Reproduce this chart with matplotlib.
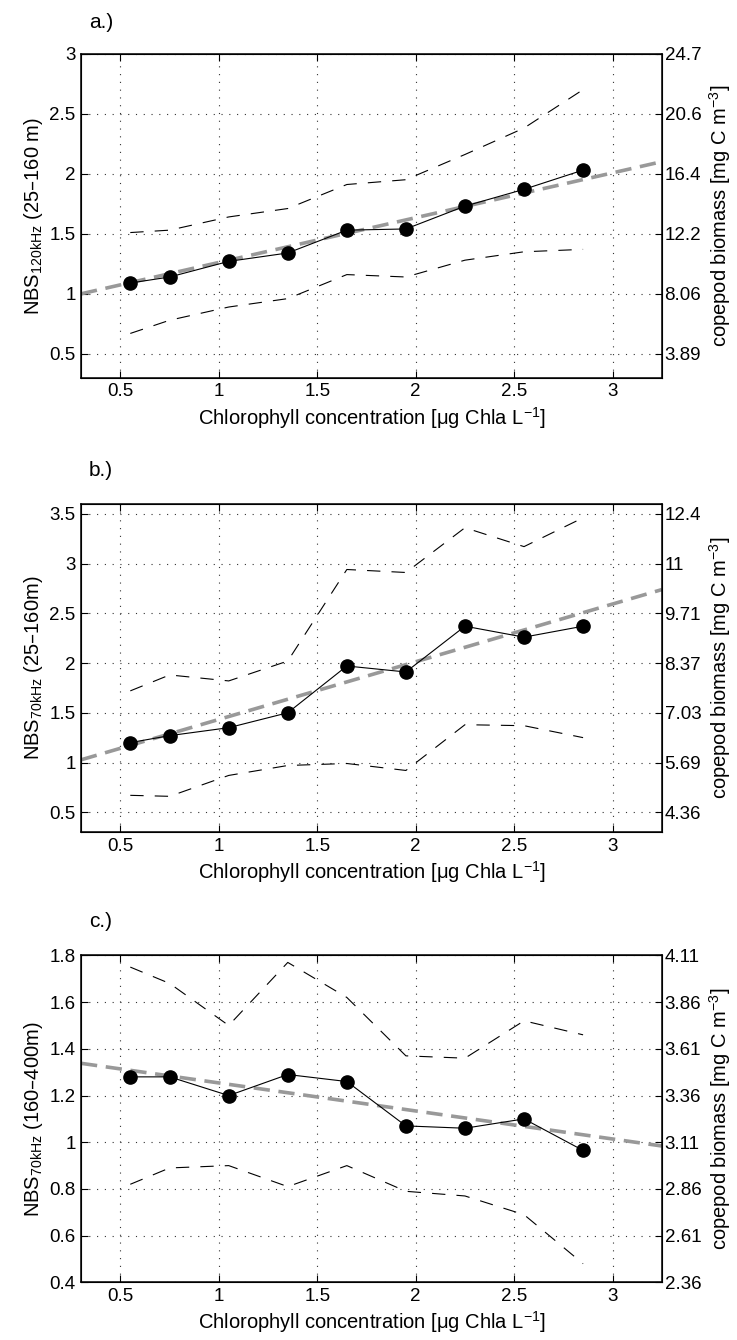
import matplotlib
matplotlib.use('Agg')
import numpy as np
import matplotlib.pyplot as plt

plt.rcParams['font.family'] = ['Liberation Sans', 'DejaVu Sans']
plt.rcParams['mathtext.default'] = 'regular'

# chlorophyll bin centres
chl = [0.55, 0.75, 1.05, 1.35, 1.65, 1.95, 2.25, 2.55, 2.85]

# a.) NBS 120 kHz, 25-160 m
nbs_a = [1.09, 1.14, 1.27, 1.34, 1.53, 1.54, 1.73, 1.87, 2.03]
upper_a = [1.51, 1.53, 1.64, 1.71, 1.91, 1.95, 2.16, 2.38, 2.70]
lower_a = [0.67, 0.78, 0.89, 0.96, 1.16, 1.14, 1.28, 1.35, 1.37]
fit_a = [0.888, 0.373]            # intercept, slope
yticks_a = [0.5, 1, 1.5, 2, 2.5, 3]
bio_a = ['3.89', '8.06', '12.2', '16.4', '20.6', '24.7']

# b.) NBS 70 kHz, 25-160 m
nbs_b = [1.20, 1.27, 1.35, 1.50, 1.97, 1.91, 2.37, 2.26, 2.37]
upper_b = [1.72, 1.88, 1.82, 2.02, 2.94, 2.91, 3.36, 3.17, 3.46]
lower_b = [0.67, 0.66, 0.87, 0.97, 0.99, 0.92, 1.38, 1.37, 1.25]
fit_b = [0.853, 0.580]
yticks_b = [0.5, 1, 1.5, 2, 2.5, 3, 3.5]
bio_b = ['4.36', '5.69', '7.03', '8.37', '9.71', '11', '12.4']

# c.) NBS 70 kHz, 160-400 m
nbs_c = [1.28, 1.28, 1.20, 1.29, 1.26, 1.07, 1.06, 1.10, 0.965]
upper_c = [1.75, 1.68, 1.50, 1.77, 1.62, 1.37, 1.36, 1.52, 1.46]
lower_c = [0.82, 0.89, 0.90, 0.81, 0.90, 0.79, 0.77, 0.69, 0.48]
fit_c = [1.374, -0.120]
yticks_c = [0.4, 0.6, 0.8, 1, 1.2, 1.4, 1.6, 1.8]
bio_c = ['2.36', '2.61', '2.86', '3.11', '3.36', '3.61', '3.86', '4.11']

xticks = [0.5, 1, 1.5, 2, 2.5, 3]
xlim = (0.3, 3.25)

panels = [
    ('a.)', 'NBS$_{120kHz}$ (25–160 m)', nbs_a, upper_a, lower_a, fit_a,
     yticks_a, bio_a, (0.3, 3.0), [0.110, 0.718, 0.788, 0.242], 0.983),
    ('b.)', 'NBS$_{70kHz}$ (25–160m)', nbs_b, upper_b, lower_b, fit_b,
     yticks_b, bio_b, (0.3, 3.6), [0.110, 0.379, 0.788, 0.245], 0.649),
    ('c.)', 'NBS$_{70kHz}$ (160–400m)', nbs_c, upper_c, lower_c, fit_c,
     yticks_c, bio_c, (0.4, 1.8), [0.110, 0.043, 0.788, 0.244], 0.312),
]

fig = plt.figure(figsize=(7.37, 13.4), dpi=100)

for tag, ylab, nbs, up, lo, fit, yt, bio, ylim, rect, ty in panels:
    ax = fig.add_axes(rect)
    ax.grid(True, color='0.2', linestyle=(0, (1, 6)), linewidth=0.8)
    ax.set_axisbelow(True)

    xs = np.array(xlim)
    ax.plot(xs, fit[0] + fit[1] * xs, color='#999999', linewidth=2.6,
            dashes=(4.5, 2.4), zorder=2)
    ax.plot(chl, up, color='black', linewidth=0.8, dashes=(12, 10), zorder=3)
    ax.plot(chl, lo, color='black', linewidth=0.8, dashes=(12, 10), zorder=3)
    ax.plot(chl, nbs, color='black', linewidth=0.8, marker='o',
            markersize=9.5, zorder=4)

    ax.set_xlim(*xlim)
    ax.set_ylim(*ylim)
    ax.set_xticks(xticks)
    ax.set_xticklabels(['0.5', '1', '1.5', '2', '2.5', '3'])
    ax.set_yticks(yt)
    ax.set_yticklabels(['%g' % v for v in yt])
    ax.tick_params(direction='in', length=5, width=0.8, labelsize=13.5,
                   top=True, right=False, pad=4)
    for s in ax.spines.values():
        s.set_linewidth(1.1)
    ax.set_xlabel('Chlorophyll concentration [μg Chla L$^{-1}$]',
                  fontsize=14.5, labelpad=3)
    ax.set_ylabel(ylab, fontsize=14.5, labelpad=3)

    ax2 = ax.twinx()
    ax2.set_ylim(*ylim)
    ax2.set_yticks(yt)
    ax2.set_yticklabels(bio)
    ax2.tick_params(direction='in', length=5, width=0.8, labelsize=13.5,
                    pad=2)
    ax2.set_ylabel('copepod biomass [mg C m$^{-3}$]', fontsize=14.5,
                   labelpad=4)

    fig.text(0.121, ty, tag, fontsize=15, va='center')

fig.savefig('out.png', dpi=100)
